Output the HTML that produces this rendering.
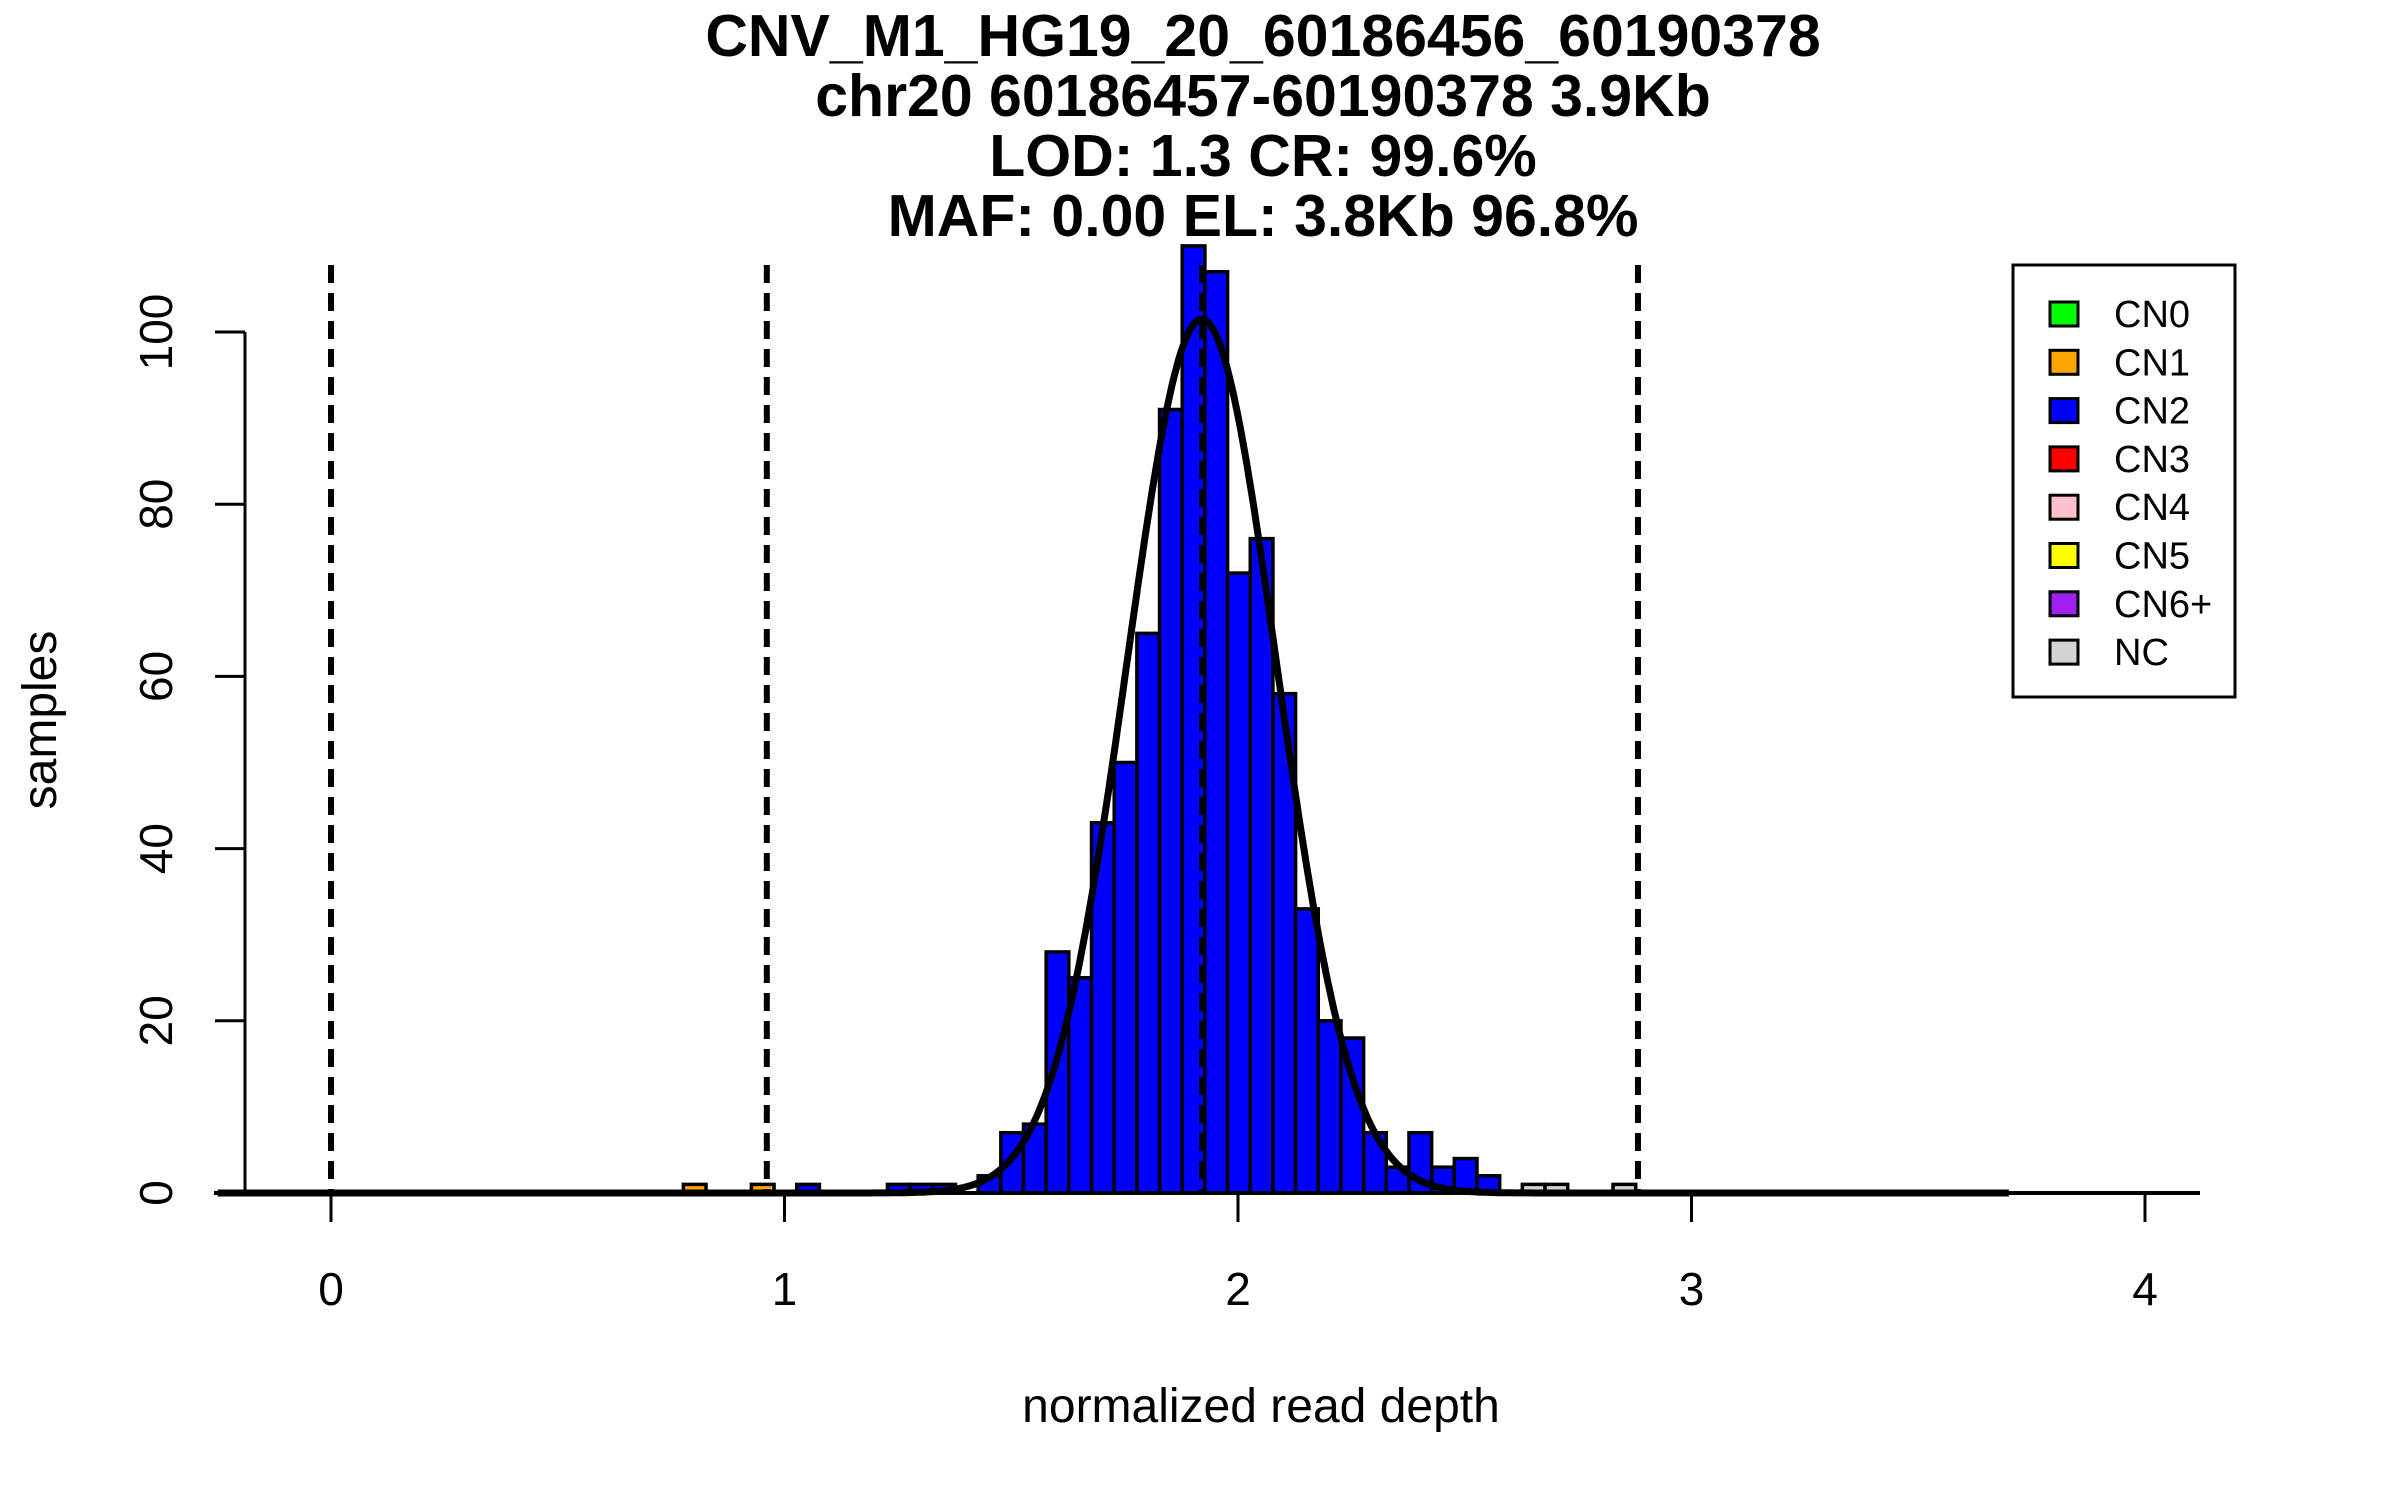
<!DOCTYPE html>
<html><head><meta charset="utf-8">
<style>
html,body{margin:0;padding:0;background:#fff;}
svg{display:block;font-family:"Liberation Sans",Arial,sans-serif;}
</style></head>
<body>
<svg id="chart" width="2400" height="1500" viewBox="0 0 2400 1500" xmlns="http://www.w3.org/2000/svg">
  <rect width="2400" height="1500" fill="#fff"/>
  <g font-weight="bold" font-size="59" text-anchor="middle" fill="#000">
    <text x="1263" y="56">CNV_M1_HG19_20_60186456_60190378</text>
    <text x="1263" y="116">chr20 60186457-60190378 3.9Kb</text>
    <text x="1263" y="176">LOD: 1.3 CR: 99.6%</text>
    <text x="1263" y="236">MAF: 0.00 EL: 3.8Kb 96.8%</text>
  </g>
  <g id="bars"></g>
  <g id="curve"></g>
  <g id="dashes"></g>
  <g id="axes"></g>
  <text x="0" y="0" transform="translate(56,720) rotate(-90)" text-anchor="middle" font-size="48">samples</text>
  <text x="1261" y="1422" text-anchor="middle" font-size="48">normalized read depth</text>
  <g>
    <rect x="2013" y="265" width="222" height="432" fill="#fff" stroke="#000" stroke-width="3"/>
    <g id="legend"></g>
  </g>
</svg>
<script>
// ---- data ----
const binLefts = [0.777,0.927,1.027,1.227,1.277,1.327,1.427,1.477,1.527,1.577,1.627,1.677,1.727,1.777,1.827,1.877,1.927,1.977,2.027,2.077,2.127,2.177,2.227,2.277,2.327,2.377,2.427,2.477,2.527,2.627,2.677,2.827];
const binCounts = [1,1,1,1,1,1,2,7,8,28,25,43,50,65,91,110,107,72,76,58,33,20,18,7,3,7,3,4,2,1,1,1];
const binClasses = ["CN1","CN1","CN2","CN2","CN2","CN2","CN2","CN2","CN2","CN2","CN2","CN2","CN2","CN2","CN2","CN2","CN2","CN2","CN2","CN2","CN2","CN2","CN2","CN2","CN2","CN2","CN2","CN2","CN2","NC","NC","NC"];
const binWidth = 0.05;
const thresholds = [0, 0.961, 1.921, 2.882];
const xTicks = [0,1,2,3,4];
const yTicks = [0,20,40,60,80,100];
const legendLabels = ["CN0","CN1","CN2","CN3","CN4","CN5","CN6+","NC"];
const legendColors = ["#00ff00","#ffa500","#0000ff","#ff0000","#ffc0cb","#ffff00","#a020f0","#d3d3d3"];
const fitMean = [1.92];
const fitSd = [0.165];
const fitPeak = [101.5];

// ---- scales ----
const NS = "http://www.w3.org/2000/svg";
const xS = v => 331 + 453.5 * v;
const yS = v => 1193 - 8.61 * v;
function mk(tag, attrs, parent){ const e=document.createElementNS(NS,tag); for(const k in attrs) e.setAttribute(k,attrs[k]); parent.appendChild(e); return e; }
const colorOf = c => legendColors[legendLabels.indexOf(c)];

// bars
const gb = document.getElementById('bars');
binLefts.forEach((l,i)=>{
  const x0=xS(l), x1=xS(l+binWidth), y=yS(binCounts[i]);
  const r = mk('rect',{x:x0,y:y,width:x1-x0,height:yS(0)-y,fill:colorOf(binClasses[i]),stroke:'#000','stroke-width':3.5},gb);
  
  
});

// density curve
const gc = document.getElementById('curve');
let d='';
for(let v=-0.25; v<=3.7; v+=0.005){
  const yv = fitPeak[0]*Math.exp(-0.5*Math.pow((v-fitMean[0])/fitSd[0],2));
  d += (d?'L':'M') + xS(v).toFixed(1) + ',' + yS(yv).toFixed(1);
}
const cp = mk('path',{d:d,fill:'none',stroke:'#000','stroke-width':7},gc);



// dashed threshold lines
const gd = document.getElementById('dashes');
thresholds.forEach(t=>{
  const ln = mk('line',{x1:xS(t),x2:xS(t),y1:265,y2:yS(0),stroke:'#000','stroke-width':6,'stroke-dasharray':'18,10'},gd);
  
  
});

// axes
const ga = document.getElementById('axes');
const xl = mk('line',{x1:214,x2:2200,y1:yS(0),y2:yS(0),stroke:'#000','stroke-width':4},ga);


xTicks.forEach(t=>{
  const tk = mk('line',{x1:xS(t),x2:xS(t),y1:yS(0),y2:1222,stroke:'#000','stroke-width':3},ga);
  
  
  const tx = mk('text',{x:xS(t),y:1305,'text-anchor':'middle','font-size':46},ga);
  tx.textContent = t;
  
  
});
const yl = mk('line',{x1:245,x2:245,y1:yS(0),y2:yS(100),stroke:'#000','stroke-width':3},ga);


yTicks.forEach(t=>{
  const tk = mk('line',{x1:215,x2:245,y1:yS(t),y2:yS(t),stroke:'#000','stroke-width':3},ga);
  
  
  const tx = mk('text',{x:0,y:0,'text-anchor':'middle','font-size':46,transform:`translate(172,${yS(t)}) rotate(-90)`},ga);
  tx.textContent = t;
  
  
});

// legend
const gl = document.getElementById('legend');
legendLabels.forEach((lab,i)=>{
  const y = 314 + 48.3*i;
  const sw = mk('rect',{x:2050,y:y-12,width:28,height:24,fill:legendColors[i],stroke:'#000','stroke-width':3},gl);
  
  
  const tx = mk('text',{x:2114,y:y+13,'font-size':38},gl);
  tx.textContent = lab;
  
  
});
</script>
</body></html>
